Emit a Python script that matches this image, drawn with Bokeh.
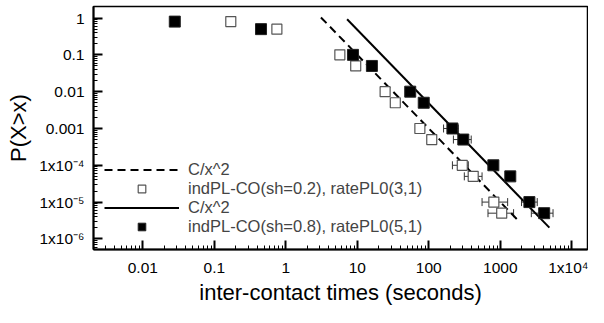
from bokeh.plotting import figure
from bokeh.models import (ColumnDataSource, FixedTicker, Legend, LegendItem,
                          Whisker, TeeHead, Range1d)
from bokeh.embed import file_html
from bokeh.resources import INLINE

# ---------------- data ----------------
y_levels = [0.8, 0.5, 0.1, 0.05, 0.01, 0.005, 0.001, 0.0005, 1e-4, 5e-5, 1e-5, 5e-6]

open_x = [0.17, 0.75, 5.7, 9.5, 24.5, 34, 75, 110, 294, 418, 813, 1047]
filled_x = [0.028, 0.45, 8.7, 16, 55, 85, 214, 304, 800, 1380, 2553, 4111]

open_err_y = [1e-4, 5e-5, 1e-5, 5e-6]
open_err_lo = [214, 314, 556, 673]
open_err_hi = [357, 556, 1268, 1535]

filled_err_y = [0.001, 0.0005, 1e-5, 5e-6]
filled_err_lo = [161, 221, 1982, 2717]
filled_err_hi = [259, 392, 3289, 5470]

fit_dashed_x = [3.1, 1860]
fit_dashed_y = [1.04, 2.9e-6]
fit_solid_x = [7.2, 4860]
fit_solid_y = [0.93, 2.03e-6]

x_ticks = [0.01, 0.1, 1, 10, 100, 1000, 10000]
x_tick_labels = ["0.01", "0.1", "1", "10", "100", "1000", "1x10\u2074"]
y_ticks = [1, 0.1, 0.01, 0.001, 0.0001, 0.00001, 0.000001]
y_tick_labels = ["1", "0.1", "0.01", "0.001", "1x10\u207b\u2074", "1x10\u207b\u2075", "1x10\u207b\u2076"]

label_dashed = "C/x^2"
label_open = "indPL-CO(sh=0.2), ratePL0(3,1)"
label_solid = "C/x^2"
label_filled = "indPL-CO(sh=0.8), ratePL0(5,1)"

# ---------------- figure ----------------
FONT = "Liberation Sans"
p = figure(width=588, height=307, x_axis_type="log", y_axis_type="log",
           x_range=Range1d(10 ** -2.69, 10 ** 4.22),
           y_range=Range1d(10 ** -6.288, 10 ** 0.314),
           output_backend="svg", toolbar_location=None,
           min_border_left=93, min_border_right=1, min_border_top=6,
           min_border_bottom=54)
p.xgrid.visible = False
p.ygrid.visible = False
p.outline_line_color = "black"
p.outline_line_width = 1.5
p.background_fill_color = "white"
p.border_fill_color = "white"

x_minor = [m * 10.0 ** d for d in range(-3, 5) for m in range(2, 10)]
y_minor = [m * 10.0 ** d for d in range(-7, 1) for m in range(2, 10)]
p.xaxis.ticker = FixedTicker(ticks=x_ticks, minor_ticks=x_minor)
p.yaxis.ticker = FixedTicker(ticks=y_ticks, minor_ticks=y_minor)
p.xaxis.major_label_overrides = dict(zip(x_ticks, x_tick_labels))
p.yaxis.major_label_overrides = dict(zip(y_ticks, y_tick_labels))

for ax in (p.xaxis, p.yaxis):
    ax.major_tick_in = 9
    ax.major_tick_out = 0
    ax.minor_tick_in = 4
    ax.minor_tick_out = 0
    ax.axis_line_width = 2
    ax.major_tick_line_width = 2
    ax.minor_tick_line_width = 1
    ax.major_label_text_font = FONT
    ax.major_label_text_font_size = "15.5px"
    ax.major_label_text_color = "black"
    ax.axis_label_text_font = FONT
    ax.axis_label_text_font_style = "normal"
    ax.axis_label_text_font_size = "22px"
    ax.axis_label_text_color = "black"

p.xaxis.axis_label = "inter-contact times (seconds)"
p.yaxis.axis_label = "P(X>x)"
p.xaxis.major_label_standoff = 9
p.yaxis.major_label_standoff = 9
p.xaxis.axis_label_standoff = 1
p.yaxis.axis_label_standoff = 5

# error bars
src_oe = ColumnDataSource(dict(y=open_err_y, lo=open_err_lo, hi=open_err_hi))
src_fe = ColumnDataSource(dict(y=filled_err_y, lo=filled_err_lo, hi=filled_err_hi))
for src in (src_oe, src_fe):
    w = Whisker(base="y", lower="lo", upper="hi", dimension="width", source=src,
                line_color="#333333", line_width=1, level="underlay",
                lower_head=TeeHead(size=8, line_color="#333333", line_width=1),
                upper_head=TeeHead(size=8, line_color="#333333", line_width=1))
    p.add_layout(w)

# fit lines
r_dash = p.line(fit_dashed_x, fit_dashed_y, line_color="black", line_width=2,
                line_dash="8 5")
r_solid = p.line(fit_solid_x, fit_solid_y, line_color="black", line_width=2)

# points
r_open = p.scatter(open_x, y_levels, marker="square", size=10,
                   fill_color="white", line_color="#555555", line_width=1.2)
r_filled = p.scatter(filled_x, y_levels, marker="square", size=11,
                     fill_color="black", line_color="#222222", line_width=1)

legend = Legend(items=[
    LegendItem(label=label_dashed, renderers=[r_dash]),
    LegendItem(label=label_open, renderers=[r_open]),
    LegendItem(label=label_solid, renderers=[r_solid]),
    LegendItem(label=label_filled, renderers=[r_filled]),
], location=(11, 13), glyph_width=75, glyph_height=19, label_height=19,
    spacing=0, padding=0, margin=0, label_standoff=9,
    label_text_font=FONT, label_text_font_size="16.5px",
    border_line_alpha=0, background_fill_alpha=0)
p.add_layout(legend)

open("out.html", "w").write(file_html(p, INLINE))
